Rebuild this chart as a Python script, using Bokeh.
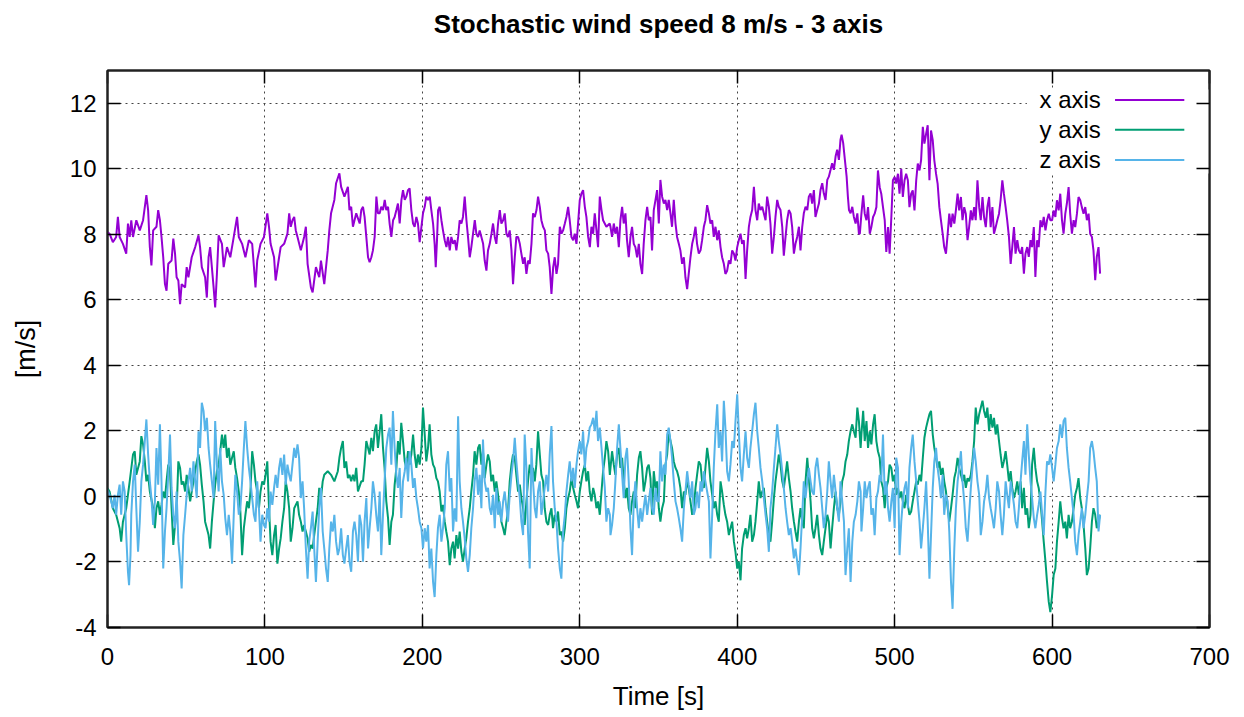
from bokeh.plotting import figure
from bokeh.models import LinearAxis, FixedTicker, Range1d
from bokeh.embed import file_html
from bokeh.resources import INLINE
from bokeh.core.properties import value

TITLE = "Stochastic wind speed 8 m/s - 3 axis"
X_LABEL = "Time [s]"
Y_LABEL = "[m/s]"
SERIES_NAMES = ["x axis", "y axis", "z axis"]
X_TICKS = [0, 100, 200, 300, 400, 500, 600, 700]
Y_TICKS = [-4, -2, 0, 2, 4, 6, 8, 10, 12]

# (time [s], speed [m/s]) samples of each wind component
X_AXIS = [
    (0.0, 8.07), (1.5, 8.00), (3.4, 7.76), (5.5, 7.92), (6.6, 8.53), (7.7, 7.92), (9.8, 7.71), (11.9, 7.41),
    (13.0, 8.33), (14.1, 7.92), (15.1, 8.43), (16.2, 7.92), (18.3, 8.43), (20.5, 8.12), (22.6, 8.43), (24.7, 9.20),
    (25.8, 8.74), (26.9, 7.61), (27.9, 7.05), (29.0, 8.12), (31.1, 8.23), (32.2, 8.74), (33.3, 8.43), (34.3, 7.92),
    (35.4, 7.30), (36.5, 6.48), (37.5, 6.28), (38.6, 7.10), (40.7, 7.20), (41.8, 7.87), (42.9, 7.41), (43.9, 6.69),
    (45.0, 6.59), (46.1, 5.87), (47.1, 6.48), (49.3, 6.38), (50.3, 7.00), (51.4, 6.69), (53.5, 7.30), (55.7, 7.61),
    (57.8, 7.97), (58.8, 7.61), (59.9, 7.00), (62.0, 6.69), (63.1, 6.07), (64.2, 7.30), (65.2, 7.61), (67.4, 6.38),
    (68.4, 5.77), (69.5, 6.79), (70.6, 7.97), (72.7, 7.71), (73.8, 7.00), (75.9, 7.61), (78.0, 7.30), (80.2, 7.92),
    (82.3, 8.53), (83.4, 7.92), (85.5, 7.71), (87.6, 7.30), (89.8, 7.82), (91.9, 7.71), (94.0, 6.38), (95.1, 7.20),
    (97.2, 7.71), (99.4, 7.92), (101.5, 8.64), (102.6, 8.23), (103.6, 7.71), (105.8, 7.30), (106.8, 6.59), (109.0, 7.30),
    (110.0, 7.61), (112.2, 7.71), (114.3, 8.02), (115.4, 8.64), (116.4, 8.23), (117.5, 8.43), (118.6, 8.53), (119.6, 8.12),
    (120.7, 7.92), (122.8, 7.51), (124.9, 7.92), (126.0, 8.23), (127.1, 7.10), (129.2, 6.38), (130.3, 6.23), (132.4, 7.00),
    (134.5, 6.69), (135.6, 7.20), (137.7, 6.48), (139.9, 7.51), (140.9, 8.12), (142.0, 8.64), (144.1, 9.05), (145.2, 9.56),
    (147.3, 9.86), (148.4, 9.45), (150.5, 9.15), (152.7, 9.45), (153.7, 8.74), (154.8, 8.84), (155.9, 8.23), (158.0, 8.64),
    (160.2, 8.33), (161.2, 8.74), (162.3, 8.84), (163.3, 8.53), (164.4, 7.92), (165.5, 7.30), (166.5, 7.15), (167.6, 7.30),
    (168.6, 7.51), (169.7, 7.92), (170.8, 9.15), (171.8, 8.64), (172.9, 8.64), (173.9, 8.84), (175.0, 8.74), (176.1, 9.05),
    (177.1, 8.74), (178.2, 8.84), (179.2, 8.33), (180.3, 7.92), (181.4, 8.43), (182.4, 8.53), (183.5, 8.74), (184.5, 8.94),
    (185.6, 8.33), (186.7, 9.05), (187.7, 9.35), (188.8, 9.05), (189.8, 9.15), (190.9, 9.35), (191.9, 9.40), (193.0, 8.74),
    (194.1, 8.33), (195.1, 8.23), (196.2, 8.53), (197.2, 8.33), (198.3, 7.76), (199.4, 8.23), (200.4, 8.64), (201.5, 8.84),
    (202.5, 9.15), (203.6, 9.05), (204.7, 9.15), (205.7, 8.74), (206.8, 8.33), (207.8, 7.71), (208.5, 7.00), (209.3, 7.82),
    (210.0, 8.74), (211.0, 8.84), (212.1, 8.43), (213.1, 8.12), (214.2, 7.82), (215.3, 7.61), (216.3, 7.92), (217.4, 7.51),
    (218.4, 7.92), (219.5, 7.71), (220.6, 7.82), (221.6, 7.51), (222.7, 7.92), (223.7, 8.43), (224.8, 8.33), (225.8, 8.53),
    (226.9, 9.15), (228.0, 8.43), (229.0, 7.92), (230.1, 7.30), (231.1, 7.61), (232.2, 8.02), (233.3, 8.43), (234.3, 8.02),
    (235.4, 7.92), (236.4, 8.12), (237.5, 7.92), (238.6, 7.71), (239.6, 7.20), (240.7, 6.89), (241.7, 7.51), (242.8, 7.71),
    (243.9, 8.02), (244.9, 8.33), (246.0, 7.92), (247.0, 7.71), (248.1, 8.33), (249.2, 8.74), (250.2, 8.33), (251.3, 8.43),
    (252.3, 8.64), (253.4, 8.02), (254.4, 7.92), (255.5, 8.12), (256.6, 7.51), (257.6, 6.48), (258.7, 7.30), (259.7, 7.92),
    (260.8, 7.92), (261.9, 7.71), (262.9, 7.41), (264.0, 7.10), (265.0, 7.30), (266.1, 6.79), (267.2, 7.20), (268.2, 7.10),
    (269.3, 7.71), (270.3, 8.64), (271.4, 8.53), (272.5, 8.74), (273.5, 9.15), (274.6, 8.84), (275.6, 8.43), (276.7, 8.23),
    (277.8, 8.12), (278.8, 7.51), (279.9, 7.41), (280.9, 7.00), (282.0, 6.18), (283.1, 7.00), (284.1, 7.30), (285.2, 6.79),
    (286.2, 7.10), (287.3, 8.23), (288.4, 8.02), (289.4, 8.12), (290.5, 8.33), (291.5, 8.53), (292.6, 8.84), (293.6, 8.43),
    (294.7, 7.92), (295.8, 7.82), (296.8, 8.02), (297.9, 7.71), (298.9, 8.33), (300.0, 9.05), (301.1, 9.25), (302.1, 9.35),
    (303.2, 8.84), (304.2, 8.53), (305.3, 7.92), (306.4, 7.61), (307.4, 8.23), (308.5, 8.02), (309.5, 8.64), (310.6, 8.12),
    (311.6, 7.61), (312.7, 9.15), (313.8, 8.74), (314.8, 8.43), (316.9, 8.23), (319.0, 8.33),
    (319.5, 8.23), (320.5, 7.92), (321.6, 8.33), (322.6, 8.02), (323.7, 8.23), (324.8, 7.61), (325.8, 8.43), (326.9, 8.84),
    (327.9, 8.33), (329.0, 8.64), (330.0, 7.82), (331.1, 7.30), (332.2, 7.92), (333.2, 8.23), (334.3, 7.71), (335.3, 7.61),
    (336.4, 7.30), (337.5, 7.71), (338.5, 7.10), (339.6, 6.79), (340.6, 7.71), (341.7, 8.43), (342.8, 8.84), (343.8, 8.43),
    (344.9, 8.53), (345.9, 7.51), (347.0, 8.74), (348.1, 9.05), (349.1, 9.35), (350.2, 8.33), (351.2, 9.66), (352.3, 9.15),
    (353.4, 8.94), (354.4, 9.05), (355.5, 8.74), (356.5, 9.05), (357.6, 8.64), (358.6, 8.23), (359.7, 9.05), (360.8, 8.33),
    (361.8, 7.92), (362.9, 7.71), (363.9, 7.51), (365.0, 7.10), (366.1, 7.30), (367.1, 6.69), (368.2, 6.33), (369.2, 6.79),
    (370.3, 7.30), (371.4, 7.71), (372.4, 7.92), (373.5, 8.23), (374.5, 7.71), (375.6, 7.41), (376.7, 7.51), (377.7, 7.82),
    (378.8, 8.23), (379.8, 8.43), (380.9, 8.89), (382.0, 8.64), (383.0, 8.33), (384.1, 8.43), (385.1, 7.92), (386.2, 8.23),
    (387.3, 7.82), (388.3, 8.12), (389.4, 7.61), (390.4, 7.30), (391.5, 7.10), (392.5, 6.79), (393.6, 6.89), (394.7, 7.20),
    (395.7, 7.10), (396.8, 7.51), (397.9, 7.41), (398.9, 7.20), (400.0, 7.61), (401.0, 7.82), (402.1, 8.02), (403.1, 7.71),
    (404.2, 7.82), (405.3, 6.64), (406.3, 7.51), (407.4, 8.23), (408.4, 8.53), (409.5, 8.74), (410.6, 9.45), (411.6, 8.74),
    (412.7, 8.43), (413.7, 8.94), (414.8, 8.74), (415.9, 8.84), (416.9, 8.64), (418.0, 8.43), (419.0, 9.15), (420.1, 8.84),
    (421.1, 8.33), (422.2, 7.41), (423.3, 7.92), (424.3, 8.53), (425.4, 9.05), (426.4, 8.84), (427.5, 8.74), (428.6, 8.23),
    (429.6, 7.35), (430.7, 7.92), (431.7, 8.43), (432.8, 8.74), (433.9, 8.64), (434.9, 8.23), (436.0, 7.41), (437.0, 7.71),
    (438.1, 7.92), (439.2, 8.23), (440.2, 7.51), (441.3, 8.23), (442.3, 8.64), (443.4, 8.84), (444.5, 8.74), (445.5, 9.15),
    (446.6, 9.25), (447.6, 8.94), (448.7, 9.35), (449.7, 8.53), (450.8, 8.74), (451.9, 8.94), (452.9, 9.35), (454.0, 9.56),
    (455.0, 9.25), (456.1, 9.05), (457.2, 9.66), (458.2, 9.76), (459.3, 9.97), (460.3, 10.17), (461.4, 9.97), (462.5, 10.38),
    (463.5, 10.58), (464.6, 10.27), (465.6, 10.89), (466.3, 11.04), (467.3, 10.79), (468.4, 10.27), (469.5, 9.76), (470.3, 9.15),
    (471.0, 8.74), (472.0, 8.64), (473.1, 8.84), (474.1, 8.53), (475.2, 8.33), (476.3, 8.64), (477.3, 8.02),
    (477.9, 8.02), (478.9, 8.63), (480.0, 9.19), (481.0, 8.63), (482.1, 8.43), (483.1, 8.83), (484.2, 8.02), (485.2, 8.22),
    (486.3, 8.53), (487.3, 8.63), (488.4, 8.83), (489.4, 9.95), (490.5, 9.44), (491.5, 9.24), (492.6, 8.83), (493.7, 8.43),
    (494.7, 7.46), (495.8, 8.22), (496.8, 7.41), (497.9, 8.53), (498.9, 9.65), (500.0, 9.75), (501.0, 9.55), (502.1, 9.85),
    (503.1, 9.24), (504.2, 10.00), (505.2, 9.14), (506.3, 9.65), (507.3, 9.85), (508.4, 9.65), (509.4, 8.83), (510.5, 9.24),
    (511.5, 9.34), (512.6, 8.73), (513.7, 9.65), (514.7, 10.16), (515.8, 9.95), (516.8, 10.26), (517.9, 11.28), (518.9, 10.77),
    (520.0, 11.07), (521.0, 11.33), (522.1, 9.65), (523.1, 11.17), (524.2, 10.87), (525.2, 10.26), (526.3, 9.85), (527.3, 9.55),
    (528.4, 8.83), (529.4, 8.43), (530.5, 8.02), (531.5, 7.61), (532.6, 7.41), (533.7, 8.02), (534.7, 8.63), (535.8, 8.22),
    (536.8, 8.63), (537.9, 8.33), (538.9, 8.73), (540.0, 9.24), (541.0, 8.73), (542.1, 9.14), (543.1, 8.43), (544.2, 8.83),
    (545.2, 8.63), (546.3, 7.82), (547.3, 8.22), (548.4, 8.73), (549.4, 8.43), (550.5, 8.83), (551.5, 8.43), (552.6, 9.65),
    (553.7, 8.83), (554.7, 8.43), (555.8, 9.14), (556.8, 8.53), (557.9, 8.22), (558.9, 8.83), (560.0, 9.14), (561.0, 8.22),
    (562.1, 8.83), (563.1, 8.02), (564.2, 8.22), (565.2, 8.43), (566.3, 8.63), (567.3, 9.04), (568.4, 9.65), (569.4, 9.24),
    (570.5, 8.83), (571.5, 8.43), (572.6, 7.92), (573.7, 7.10), (574.7, 7.61), (575.8, 8.22), (576.8, 7.41), (577.9, 7.82),
    (578.9, 7.51), (580.0, 7.41), (581.0, 7.61), (582.1, 6.80), (583.1, 7.41), (584.2, 7.61), (585.2, 7.31), (586.3, 7.82),
    (587.3, 7.61), (588.4, 8.22), (589.4, 6.70), (590.5, 7.82), (591.5, 7.61), (592.6, 8.43), (593.7, 8.22), (594.7, 8.53),
    (595.8, 8.12), (596.8, 8.43), (597.9, 8.63), (598.9, 8.43), (600.0, 8.43), (601.0, 8.73), (602.1, 8.53), (603.1, 9.04),
    (604.2, 8.73), (605.2, 9.24), (606.3, 8.43), (607.3, 8.02), (608.4, 8.63), (609.4, 8.94), (610.5, 9.44), (611.5, 8.63),
    (612.6, 8.02), (613.7, 8.43), (614.7, 8.22), (615.8, 8.63), (616.8, 9.14), (617.9, 9.04), (618.9, 8.83), (620.0, 8.63),
    (621.1, 8.83), (622.1, 8.43), (623.2, 8.63), (624.2, 8.02), (625.3, 7.92), (626.3, 7.51), (627.4, 6.60), (628.4, 7.31),
    (629.5, 7.61), (630.5, 6.80),
]

Y_AXIS = [
    (0.0, 0.25), (1.3, 0.15), (3.4, -0.36), (5.5, -0.56), (7.7, -0.97), (8.7, -1.38), (9.8, -0.77), (11.9, -0.36),
    (14.1, 0.46), (16.2, 1.28), (17.3, 1.38), (18.3, 0.66), (20.5, 1.07), (21.5, 1.84), (22.6, 1.59), (23.7, 1.07),
    (24.7, 0.46), (25.8, 0.66), (26.9, 0.15), (29.0, -0.36), (30.1, -0.97), (31.1, -0.36), (32.2, -0.15), (33.3, -0.56),
    (34.3, -0.26), (35.4, 0.15), (36.5, -0.05), (37.5, 0.46), (38.6, 0.97), (39.7, 0.77), (40.7, -0.36), (41.8, -1.48),
    (42.9, -0.87), (43.9, -0.46), (45.0, 1.07), (46.1, 0.87), (47.1, 0.36), (48.2, 0.46), (49.3, 0.15), (50.3, 0.66),
    (51.4, 0.26), (52.5, -0.15), (53.5, 0.15), (54.6, 0.46), (55.7, 0.77), (56.7, 1.07), (57.8, 1.28), (58.8, 0.97),
    (59.9, 0.36), (61.0, -0.15), (62.0, -0.77), (63.1, -0.97), (64.2, -1.18), (65.2, -1.59), (66.3, -0.77), (67.4, -0.15),
    (68.4, 0.36), (69.5, 0.77), (70.6, 0.97), (71.6, 1.38), (72.7, 1.89), (73.8, 1.48), (74.8, 1.89), (75.9, 1.18),
    (77.0, 1.48), (78.0, 0.97), (79.1, 1.18), (80.2, 1.38), (81.2, 0.87), (82.3, 0.56), (83.4, 0.15), (84.4, -0.46),
    (85.5, -1.79), (86.6, -0.97), (87.6, -0.56), (88.7, -0.15), (89.8, -0.36), (90.8, 0.15), (91.9, 1.38), (93.0, 0.97),
    (94.0, 0.46), (95.1, 0.15), (96.2, -0.36), (97.2, 0.15), (98.3, 0.46), (99.4, 0.36), (100.4, 0.66), (101.5, 1.07),
    (102.6, -0.36), (103.6, -1.38), (104.7, -1.79), (105.8, -1.18), (106.8, -0.87), (107.9, -2.05), (109.0, -1.59), (110.0, -1.28),
    (111.1, -0.77), (112.2, -0.36), (113.2, 0.46), (114.3, 0.15), (115.4, -0.36), (116.4, -1.38), (117.5, -0.97), (118.6, -0.36),
    (120.7, -0.15), (121.7, -0.56), (122.8, -0.77), (123.9, -1.07), (124.9, -0.87), (126.0, -1.07), (127.1, -1.28), (128.1, -1.69),
    (129.2, -1.48), (130.3, -1.59), (131.3, -1.18), (132.4, -0.77), (133.5, -0.36), (134.5, 0.26), (135.6, -0.05), (136.7, 0.46),
    (137.7, 0.66), (139.9, 0.77), (142.0, 0.66), (144.1, 0.46), (146.3, 0.77), (147.3, 1.18), (148.4, 1.48), (149.5, 1.69),
    (150.5, 0.87), (151.6, 1.07), (152.7, 0.56), (153.7, 0.66), (154.8, 0.46), (155.9, 0.66), (156.9, 0.46), (158.0, 0.87),
    (159.1, 0.15), (161.2, 0.46),
    (162.3, 0.46), (163.3, 0.97), (164.4, 1.69), (165.5, 1.48), (166.5, 1.28), (167.6, 1.79), (168.6, 1.38), (169.7, 1.99),
    (170.7, 2.20), (171.8, 1.48), (172.9, 1.99), (173.9, 2.51), (175.0, 1.48), (176.0, 0.87), (177.1, -0.15), (178.2, -0.66),
    (179.2, -1.48), (180.3, -0.77), (181.3, -0.56), (182.4, 0.36), (183.5, 0.87), (184.5, 1.69), (185.6, 1.28), (186.6, 2.25),
    (187.7, 1.69), (188.8, 1.07), (189.8, 0.87), (190.9, 1.38), (191.9, 0.97), (193.0, 1.28), (194.1, 1.89), (195.1, 1.28),
    (196.2, 0.87), (197.2, 1.28), (198.3, 0.97), (199.4, 1.48), (200.4, 2.71), (201.5, 1.89), (202.5, 1.07), (203.6, 1.48),
    (204.6, 2.20), (205.7, 1.28), (206.8, 0.97), (207.8, 0.87), (208.9, 0.56), (209.9, 0.46), (211.0, 0.15), (212.1, -0.46),
    (213.1, -0.26), (214.2, -0.77), (215.2, -1.07), (216.3, -1.38), (217.4, -2.10), (218.4, -1.59), (219.5, -1.38), (220.5, -1.89),
    (221.6, -1.18), (222.7, -1.59), (223.7, -1.07), (224.8, -1.69), (225.8, -1.99), (226.9, -1.59), (227.9, -1.28), (229.0, -0.77),
    (230.1, -0.36), (231.1, 0.15), (232.2, 0.66), (233.2, 1.38), (234.3, 0.97), (235.4, 1.48), (236.4, 1.59), (237.5, 0.97),
    (238.5, 1.38), (239.6, 0.56), (240.7, 0.97), (241.7, 1.28), (242.8, 1.07), (243.8, 0.46), (244.9, 0.66), (246.0, 0.15),
    (247.0, 0.46), (248.1, 0.05), (249.1, -0.36), (250.2, -0.77), (251.3, -0.97), (252.3, -1.18), (253.4, -0.77), (254.4, -0.46),
    (255.5, 0.46), (256.6, 0.97), (257.6, 1.28), (258.7, 1.18), (259.7, 0.66), (260.8, 0.15), (261.9, 0.36), (262.9, -0.05),
    (264.0, -0.36), (265.0, -0.87), (266.1, -0.15), (267.1, 0.46), (268.2, 0.97), (269.3, 0.66), (270.3, 0.87), (271.4, 0.46),
    (272.4, 0.97), (273.5, 1.99), (274.6, 1.28), (275.6, 0.66), (276.7, 0.46), (277.7, -0.36), (278.8, -0.77), (279.9, -0.87),
    (280.9, -0.56), (282.0, -0.36), (283.0, -0.97), (284.1, -0.56), (285.2, -0.77), (286.2, -0.46), (287.3, -1.18), (288.3, -1.07),
    (289.4, -1.38), (290.5, -0.97), (291.5, -0.36), (292.6, -0.05), (293.6, 0.15), (294.7, 0.56), (295.8, 0.26), (296.8, 0.05),
    (297.9, -0.15), (298.9, -0.36), (300.0, 0.15), (301.0, 0.46), (302.1, 0.77), (303.2, 0.97), (304.2, 0.46), (305.3, 0.77),
    (306.3, 0.15), (307.4, -0.15), (308.5, 0.26), (309.5, 0.05), (310.6, -0.36), (311.6, -0.15), (312.7, -0.56), (313.8, 0.15),
    (314.8, 0.77), (315.9, 1.18), (316.9, 1.69), (318.0, 1.38), (319.1, 0.66),
    (319.5, 0.87), (320.5, 1.38), (321.6, 0.97), (322.6, 0.66), (323.7, 1.28), (324.8, 1.48), (325.8, 0.87), (326.9, 1.18),
    (327.9, 0.46), (329.0, -0.05), (330.0, 0.26), (331.1, -0.36), (332.2, -0.56), (333.2, -0.15), (334.3, 0.15), (335.3, -0.36),
    (336.4, 0.66), (337.5, 1.18), (338.5, 1.38), (339.6, 0.87), (340.6, 0.15), (341.7, 0.46), (342.8, 0.87), (343.8, 0.97),
    (344.9, 0.56), (345.9, -0.56), (347.0, 0.77), (348.1, 0.26), (349.1, 0.46), (350.2, -0.36), (351.2, -0.77), (352.3, -0.36),
    (353.4, -0.15), (354.4, 0.97), (355.5, 1.28), (356.5, 1.99), (357.6, 1.69), (358.6, 1.48), (359.7, 1.07), (360.8, 0.87),
    (361.8, 0.77), (362.9, 0.56), (363.9, 0.26), (365.0, -0.36), (366.1, 0.15), (367.1, 0.05), (368.2, 0.46), (369.2, 0.26),
    (370.3, -0.15), (371.4, -0.56), (372.4, -0.36), (373.5, 0.26), (374.5, 0.66), (375.6, 1.07), (376.7, 0.97), (377.7, 0.46),
    (378.8, 0.26), (379.8, 0.87), (380.9, 1.48), (382.0, 1.07), (383.0, 0.46), (384.1, 0.05), (385.1, -0.36), (386.2, -0.15),
    (387.3, -0.56), (388.3, -0.77), (389.4, 0.46), (390.4, 0.15), (391.5, -0.26), (392.5, -0.56), (393.6, -0.77), (394.7, -1.18),
    (395.7, -0.97), (396.8, -0.77), (397.9, -1.38), (398.9, -1.69), (400.0, -2.20), (401.0, -1.99), (402.1, -2.56), (403.1, -1.59),
    (404.2, -1.18), (405.3, -0.97), (406.3, -1.28), (407.4, -0.97), (408.4, -0.56), (409.5, -1.38), (410.6, -1.18), (411.6, -0.77),
    (412.7, -0.15), (413.7, 0.46), (414.8, -0.05), (415.9, 0.15), (416.9, 0.26), (418.0, -0.36), (419.0, -0.77), (420.1, -1.18),
    (421.1, -1.38), (422.2, -0.77), (423.3, -0.05), (424.3, 0.46), (425.4, 0.87), (426.4, 1.28), (427.5, 0.97), (428.6, 0.46),
    (429.6, 0.26), (430.7, 0.66), (431.7, 1.07), (432.8, 0.56), (433.9, 0.15), (434.9, -0.36), (436.0, -0.77), (437.0, -1.07),
    (438.1, -1.38), (439.2, -0.77), (440.2, -0.36), (441.3, -0.77), (442.3, -0.97), (443.4, 0.46), (444.5, 1.18), (445.5, 0.56),
    (446.6, -0.15), (447.6, -0.97), (448.7, -1.28), (449.7, -0.97), (450.8, -0.56), (451.9, -1.18), (452.9, -1.59), (454.0, -1.79),
    (455.0, -1.38), (456.1, -0.97), (457.2, -0.56), (458.2, -0.77), (459.3, -1.59), (460.3, -0.97), (461.4, -0.36), (462.5, 0.15),
    (463.5, -0.36), (464.6, -0.56), (465.6, -0.15), (466.7, 0.46), (467.8, 0.66), (468.8, 1.07), (469.9, 1.28), (470.9, 1.69),
    (472.0, 1.99), (473.1, 2.20), (474.1, 1.99), (475.2, 1.79), (476.3, 2.71), (477.3, 2.30), (478.4, 1.48),
    (478.9, 1.89), (480.0, 2.61), (481.0, 1.69), (482.1, 2.30), (483.1, 1.48), (484.2, 1.99), (485.2, 1.59), (486.3, 2.20),
    (487.3, 2.51), (488.4, 1.69), (489.4, 1.38), (490.5, 1.18), (491.5, 0.46), (492.6, 0.26), (493.7, -0.36), (494.7, 0.26),
    (495.8, 0.46), (496.8, 0.97), (497.9, 0.87), (498.9, 0.46), (500.0, 0.66), (501.0, 0.05), (502.1, 0.26), (503.1, -0.05),
    (504.2, 0.15), (505.2, -0.15), (506.3, -0.36), (507.3, 0.05), (508.4, -0.26), (509.4, -0.56), (510.5, -0.46), (511.5, -0.15),
    (512.6, 0.15), (513.7, 0.46), (514.7, 0.36), (515.8, 0.66), (516.8, 0.46), (517.9, 1.18), (518.9, 1.79), (520.0, 2.10),
    (521.0, 2.30), (522.1, 2.51), (523.1, 2.61), (524.2, 1.89), (525.2, 1.48), (526.3, 1.18), (527.3, 0.87), (528.4, 1.07),
    (529.4, 0.66), (530.5, 0.87), (531.5, 0.46), (532.6, 0.15), (533.7, -0.36), (534.7, -0.77), (535.8, -0.36), (536.8, 0.05),
    (537.9, 0.56), (538.9, 0.77), (540.0, 1.18), (541.0, 0.87), (542.1, 0.66), (543.1, 0.46), (544.2, 0.66), (545.2, 0.26),
    (546.3, 0.56), (547.3, 0.46), (548.4, 0.66), (549.4, 1.07), (550.5, 1.69), (551.5, 2.71), (552.6, 2.20), (553.7, 2.51),
    (554.7, 2.71), (555.8, 2.92), (556.8, 2.61), (557.9, 2.40), (558.9, 2.71), (560.0, 1.99), (561.0, 2.51), (562.1, 2.10),
    (563.1, 2.40), (564.2, 1.89), (565.2, 2.20), (566.3, 1.69), (567.3, 1.28), (568.4, 0.87), (569.4, 1.07), (570.5, 1.38),
    (571.5, 0.97), (572.6, 0.46), (573.7, 0.77), (574.7, 0.26), (575.8, -0.05), (576.8, 0.15), (577.9, 0.46), (578.9, 0.05),
    (580.0, 0.46), (581.0, -0.36), (582.1, 0.26), (583.1, -0.56), (584.2, -0.36), (585.2, -0.97), (586.3, -0.56), (587.3, 0.97),
    (588.4, 1.48), (589.4, 0.87), (590.5, 0.46), (591.5, 0.26), (592.6, -0.15), (593.7, -0.77), (594.7, -1.38), (595.8, -1.99),
    (596.8, -2.61), (597.9, -3.22), (598.9, -3.53), (600.0, -3.02), (601.0, -2.40), (602.1, -2.20), (603.1, -1.38), (604.2, -0.77),
    (605.2, -0.15), (606.3, -0.66), (607.3, -0.97), (608.4, -0.77), (609.4, -1.28), (610.5, -0.56), (611.5, -0.97), (612.6, -0.77),
    (613.7, -0.36), (614.7, 0.05), (615.8, 0.26), (616.8, 0.56), (617.9, -0.05), (618.9, -0.36), (620.0, -0.87), (621.1, -1.59),
    (622.1, -2.40), (623.2, -2.20), (624.2, -1.59), (625.3, -0.77), (626.3, -0.36), (627.4, -0.56), (628.4, -0.97), (629.5, -0.77),
    (630.5, -0.56),
]

Z_AXIS = [
    (0.0, 0.20), (1.3, 0.05), (2.3, -0.15), (3.4, -0.36), (4.5, 0.05), (5.5, -0.56), (6.6, 0.05), (7.7, 0.36),
    (8.7, -0.56), (9.8, 0.46), (10.9, 0.15), (11.9, -1.18), (13.0, -2.30), (13.7, -2.71), (14.6, -1.79), (15.1, -0.56),
    (16.2, 0.46), (17.3, 0.97), (18.3, -0.36), (19.4, -1.69), (20.5, -0.77), (21.5, 0.46), (22.6, 0.97), (23.7, 1.69),
    (24.7, 2.35), (25.8, 1.28), (26.9, 0.46), (27.9, -0.05), (29.0, -0.87), (30.1, -0.15), (31.1, 1.48), (32.2, 0.36),
    (33.3, 2.20), (34.3, 0.46), (35.4, -2.20), (36.5, -1.07), (37.5, -0.36), (38.6, 0.66), (39.7, 1.89), (40.7, 0.26),
    (41.8, -0.56), (42.9, -0.97), (43.9, 0.15), (45.0, -1.38), (46.1, -1.99), (47.1, -2.81), (48.2, -1.18), (49.3, -0.56),
    (50.3, 0.05), (51.4, 0.46), (52.5, 0.87), (53.5, 0.15), (54.6, 1.07), (55.7, 0.46), (56.7, -0.05), (57.8, 1.99),
    (58.8, 1.48), (59.9, 2.86), (61.0, 2.61), (62.0, 1.99), (63.1, 2.40), (64.2, 1.48), (65.2, 0.97), (66.3, 0.46),
    (67.4, -0.05), (68.4, 2.30), (69.5, 0.97), (70.6, 0.15), (71.6, 1.48), (72.7, 0.46), (73.8, 0.05), (74.8, -0.66),
    (75.9, -1.18), (77.0, -0.56), (78.0, -1.07), (79.1, -2.05), (80.2, -0.56), (81.2, 0.66), (82.3, 0.15), (83.4, -0.56),
    (84.4, -0.36), (85.5, 0.46), (86.6, 1.48), (87.6, 2.30), (88.7, 1.48), (89.8, 0.87), (90.8, 0.46), (91.9, -0.05),
    (93.0, -0.56), (94.0, -0.77), (95.1, 0.46), (96.2, -0.36), (97.2, -1.38), (98.3, -0.56), (99.4, -0.87), (100.4, -0.97),
    (101.5, -0.36), (102.6, -0.77), (103.6, 0.15), (104.7, -0.26), (105.8, 0.26), (106.8, 0.66), (107.9, 0.26), (109.0, 0.87),
    (110.0, 1.18), (111.1, 0.66), (112.2, 1.28), (113.2, 0.36), (114.3, 0.97), (115.4, 0.66), (116.4, 0.46), (117.5, 0.97),
    (118.6, 1.48), (119.6, 1.18), (120.7, 1.59), (121.7, 1.18), (122.8, -0.05), (123.9, 0.46), (124.9, -0.36), (126.0, -1.59),
    (127.1, -2.51), (128.1, -1.38), (129.2, -0.97), (130.3, -0.46), (131.3, -1.59), (132.4, -2.61), (133.5, -1.38), (134.5, -0.36),
    (135.6, 0.26), (136.7, -1.07), (137.7, -1.59), (138.8, -2.20), (139.9, -2.61), (140.9, -1.59), (142.0, -0.77), (143.1, -1.07),
    (144.1, -0.56), (145.2, -1.38), (146.3, -1.79), (147.3, -1.59), (148.4, -0.97), (149.5, -1.79), (150.5, -2.05), (151.6, -1.59),
    (152.7, -1.18), (153.7, -1.99), (154.8, -2.30), (155.9, -1.07), (156.9, -0.77), (158.0, -1.18), (159.1, -1.99), (160.1, -0.56),
    (161.2, -0.87),
    (162.3, -1.99), (163.3, -0.77), (164.4, -0.05), (165.5, -1.59), (166.5, -0.97), (167.6, -0.36), (168.6, 0.46), (169.7, 0.05),
    (170.7, -0.56), (171.8, -1.07), (172.9, 0.15), (173.9, -1.79), (175.0, -0.56), (176.0, 0.46), (177.1, 1.48), (178.2, 1.89),
    (179.2, 2.10), (180.3, 0.97), (181.3, 2.61), (182.4, 1.48), (183.5, 0.66), (184.5, 0.26), (185.6, 0.87), (186.6, -0.66),
    (187.7, 0.46), (188.8, 0.77), (189.8, 1.18), (190.9, 0.46), (191.9, 1.38), (193.0, 0.97), (194.1, 0.26), (195.1, 0.56),
    (196.2, -0.05), (197.2, -0.36), (198.3, -0.77), (199.4, -0.97), (200.4, -1.59), (201.5, -0.97), (202.5, -1.38), (203.6, -0.87),
    (204.6, -2.20), (205.7, -1.59), (206.8, -2.61), (207.8, -3.07), (208.9, -1.79), (209.9, -0.97), (211.0, -0.56), (212.1, -1.38),
    (213.1, -0.97), (214.2, -0.36), (215.2, 0.97), (216.3, 1.38), (217.4, 0.15), (218.4, 0.56), (219.5, -1.07), (220.5, -0.36),
    (221.6, -0.77), (222.7, 2.45), (223.7, 0.46), (224.8, -0.36), (225.8, -0.77), (226.9, -1.28), (227.9, -1.89), (229.0, -2.30),
    (230.1, -1.79), (231.1, -0.97), (232.2, -0.36), (233.2, 0.46), (234.3, 0.87), (235.4, 0.05), (236.4, 0.66), (237.5, -0.36),
    (238.5, 1.74), (239.6, 0.46), (240.7, 0.15), (241.7, 0.26), (242.8, -0.36), (243.8, -0.56), (244.9, 0.05), (246.0, -0.97),
    (247.0, 0.26), (248.1, -0.56), (249.1, -0.15), (250.2, -0.77), (251.3, -0.15), (252.3, 0.15), (253.4, -0.36), (254.4, -0.77),
    (255.5, 0.05), (256.6, 0.66), (257.6, 1.07), (258.7, 1.79), (259.7, 1.07), (260.8, 0.46), (261.9, -0.05), (262.9, -0.77),
    (264.0, -1.18), (265.0, 1.89), (266.1, 0.87), (267.1, -1.07), (268.2, -2.20), (269.3, 1.48), (270.3, 0.46), (271.4, -0.36),
    (272.4, -0.66), (273.5, 0.15), (274.6, 0.46), (275.6, -0.56), (276.7, -0.15), (277.7, 0.26), (278.8, 0.66), (279.9, 0.15),
    (280.9, 1.28), (282.0, 2.15), (283.0, 0.46), (284.1, -0.36), (285.2, -0.77), (286.2, -1.59), (287.3, -2.20), (288.3, -2.51),
    (289.4, -1.07), (290.5, -0.56), (291.5, 0.15), (292.6, 0.66), (293.6, 1.07), (294.7, 0.46), (295.8, 0.87), (296.8, 0.26),
    (297.9, 0.97), (298.9, 1.38), (300.0, 1.69), (301.0, 1.28), (302.1, 1.99), (303.2, 0.87), (304.2, 1.48), (305.3, 1.69),
    (306.3, 2.10), (307.4, 2.20), (308.5, 2.40), (309.5, 1.99), (310.6, 2.61), (311.6, 1.69), (312.7, 2.10), (313.8, 1.48),
    (314.8, 0.87), (315.9, 0.26), (316.9, -0.77), (318.0, -0.36), (319.1, -0.56),
    (319.5, -1.18), (320.5, -0.87), (321.6, -0.36), (322.6, 0.46), (323.7, 1.48), (324.8, 2.20), (325.8, 1.48), (326.9, 0.66),
    (327.9, -0.05), (329.0, 1.18), (330.0, 1.48), (331.1, 0.46), (332.2, -0.97), (333.2, -1.79), (334.3, -0.15), (335.3, 0.46),
    (336.4, -0.36), (337.5, -0.97), (338.5, -0.36), (339.6, -0.77), (340.6, -0.36), (341.7, 0.05), (342.8, -0.56), (343.8, -0.15),
    (344.9, 0.26), (345.9, -0.36), (347.0, -0.56), (348.1, 0.26), (349.1, -0.15), (350.2, -0.15), (351.2, 1.38), (352.3, 0.46),
    (353.4, 0.97), (354.4, 0.66), (355.5, 1.89), (356.5, 2.10), (357.6, 1.69), (358.6, 1.18), (359.7, 0.46), (360.8, -0.15),
    (361.8, -0.36), (362.9, -0.66), (363.9, -0.97), (365.0, -1.38), (366.1, -0.36), (367.1, 0.15), (368.2, 0.77), (369.2, 0.36),
    (370.3, -0.05), (371.4, 0.46), (372.4, -0.56), (373.5, -0.36), (374.5, 0.15), (375.6, -0.36), (376.7, 0.46), (377.7, 0.15),
    (378.8, 0.77), (379.8, 0.46), (380.9, 0.15), (382.0, -0.15), (383.0, -1.89), (384.1, -0.56), (385.1, 0.87), (386.2, 1.99),
    (387.3, 2.81), (388.3, 1.48), (389.4, 1.99), (390.4, 1.07), (391.5, 2.92), (392.5, 2.10), (393.6, 0.77), (394.7, 0.46),
    (395.7, 0.97), (396.8, 1.69), (397.9, 1.48), (398.9, 2.30), (400.0, 3.12), (401.0, 1.99), (402.1, 0.87), (403.1, 0.46),
    (404.2, 1.28), (405.3, 1.99), (406.3, 1.18), (407.4, 0.87), (408.4, 1.48), (409.5, 1.99), (410.6, 2.51), (411.6, 2.86),
    (412.7, 1.99), (413.7, 1.48), (414.8, 0.87), (415.9, 0.46), (416.9, -0.05), (418.0, -0.56), (419.0, -0.97), (420.1, -1.69),
    (421.1, -0.36), (422.2, 0.15), (423.3, 0.87), (424.3, 1.48), (425.4, 2.20), (426.4, 1.69), (427.5, 1.28), (428.6, 0.77),
    (429.6, 0.26), (430.7, -0.36), (431.7, -0.77), (432.8, -1.18), (433.9, -0.97), (434.9, -1.38), (436.0, -1.89), (437.0, -1.59),
    (438.1, -1.99), (439.2, -2.40), (440.2, -1.59), (441.3, -0.56), (442.3, 0.46), (443.4, -0.05), (444.5, 0.46), (445.5, 0.87),
    (446.6, 0.46), (447.6, 0.15), (448.7, 0.05), (449.7, 0.87), (450.8, 1.18), (451.9, 0.66), (452.9, 0.26), (454.0, -0.36),
    (455.0, -0.97), (456.1, -0.56), (457.2, 0.15), (458.2, 1.07), (459.3, 0.46), (460.3, -0.05), (461.4, 0.66), (462.5, 0.15),
    (463.5, -0.36), (464.6, -0.77), (465.6, 0.46), (466.7, -0.15), (467.8, -0.77), (468.8, -2.40), (469.9, -1.59), (470.9, -0.97),
    (472.0, -2.61), (473.1, -1.38), (474.1, -0.77), (475.2, -0.56), (476.3, -0.15), (477.3, 0.46), (478.4, 0.15),
    (478.9, -1.07), (480.0, -0.36), (481.0, 0.46), (482.1, -0.05), (483.1, 0.26), (484.2, 0.46), (485.2, -0.56), (486.3, -0.36),
    (487.3, -1.18), (488.4, -0.05), (489.4, 0.15), (490.5, 0.66), (491.5, 0.46), (492.6, 1.89), (493.7, 0.05), (494.7, 0.46),
    (495.8, -0.36), (496.8, -0.77), (497.9, -0.15), (498.9, 0.26), (500.0, -0.97), (501.0, 1.18), (502.1, 0.87), (503.1, -1.79),
    (504.2, -0.77), (505.2, -0.15), (506.3, 0.26), (507.3, 0.46), (508.4, -0.36), (509.4, 0.87), (510.5, 1.48), (511.5, 1.89),
    (512.6, 1.07), (513.7, 0.46), (514.7, -0.15), (515.8, -0.77), (516.8, -1.59), (517.9, -0.97), (518.9, -0.36), (520.0, 0.46),
    (521.0, -0.77), (522.1, -2.51), (523.1, -1.18), (524.2, 0.26), (525.2, 1.07), (526.3, 1.48), (527.3, 0.87), (528.4, 0.46),
    (529.4, -0.05), (530.5, 0.66), (531.5, -0.56), (532.6, 0.05), (533.7, -0.15), (534.7, -1.07), (535.8, -2.61), (536.8, -3.43),
    (537.9, -1.59), (538.9, -0.36), (540.0, 0.46), (541.0, 0.87), (542.1, 1.38), (543.1, 0.46), (544.2, -0.15), (545.2, -0.97),
    (546.3, -1.38), (547.3, -0.56), (548.4, 0.26), (549.4, 0.87), (550.5, 1.48), (551.5, 1.07), (552.6, 0.46), (553.7, 0.05),
    (554.7, -1.18), (555.8, -0.77), (556.8, -0.15), (557.9, 0.15), (558.9, 0.66), (560.0, -0.05), (561.0, -0.36), (562.1, -0.66),
    (563.1, -0.97), (564.2, -0.36), (565.2, 0.46), (566.3, 0.15), (567.3, -0.56), (568.4, -1.18), (569.4, -0.56), (570.5, 0.46),
    (571.5, 0.05), (572.6, -0.36), (573.7, 0.46), (574.7, 0.15), (575.8, -0.26), (576.8, -0.77), (577.9, -0.97), (578.9, -0.36),
    (580.0, 0.46), (581.0, 1.07), (582.1, 1.69), (583.1, 0.66), (584.2, 2.20), (585.2, 1.28), (586.3, 0.46), (587.3, -0.05),
    (588.4, -0.66), (589.4, -0.97), (590.5, -0.56), (591.5, -0.26), (592.6, 0.15), (593.7, -0.56), (594.7, -1.18), (595.8, 0.15),
    (596.8, 1.07), (597.9, 0.97), (598.9, 1.28), (600.0, 0.87), (601.0, 0.46), (602.1, 0.97), (603.1, 1.48), (604.2, 1.69),
    (605.2, 2.20), (606.3, 1.79), (607.3, 2.30), (608.4, 2.40), (609.4, 1.48), (610.5, 0.87), (611.5, 0.46), (612.6, -0.05),
    (613.7, -0.56), (614.7, -1.38), (615.8, -1.79), (616.8, -1.18), (617.9, -0.77), (618.9, -0.36), (620.0, -0.97), (621.1, -0.56),
    (622.1, -0.05), (623.2, 0.46), (624.2, 1.48), (625.3, 1.69), (626.3, 1.38), (627.4, 0.87), (628.4, 0.46), (629.5, -1.07),
    (630.5, -0.56),
]

SERIES = [X_AXIS, Y_AXIS, Z_AXIS]
COLORS = ["#9400d3", "#009e73", "#56b4e9"]
FONT = "Liberation Sans"

p = figure(width=1244, height=717, output_backend="svg", toolbar_location=None,
           title_location=None,
           x_range=Range1d(0, 700), y_range=Range1d(-4, 13),
           min_border_left=107, min_border_right=35, min_border_top=70, min_border_bottom=90,
           background_fill_color="white", border_fill_color="white")

p.outline_line_color = "#222222"
p.outline_line_width = 2

bottom_axis = p.below[0]
left_axis = p.left[0]

# mirror axes on top and right; the top one carries the title
top_axis = LinearAxis()
right_axis = LinearAxis()
p.add_layout(top_axis, "above")
p.add_layout(right_axis, "right")

for ax in [bottom_axis, top_axis]:
    ax.ticker = FixedTicker(ticks=X_TICKS)
    ax.major_label_overrides = {t: str(t) for t in X_TICKS}
for ax in [left_axis, right_axis]:
    ax.ticker = FixedTicker(ticks=Y_TICKS)
    ax.major_label_overrides = {t: str(t) for t in Y_TICKS}
p.xgrid.ticker = FixedTicker(ticks=X_TICKS)
p.ygrid.ticker = FixedTicker(ticks=Y_TICKS)

for ax in [bottom_axis, left_axis, top_axis, right_axis]:
    ax.major_tick_in = 13
    ax.major_tick_out = 0
    ax.minor_tick_in = 0
    ax.minor_tick_out = 0
    ax.major_tick_line_color = "black"
    ax.major_tick_line_width = 1.5
    ax.axis_line_color = "#222222"
    ax.axis_line_width = 2
    ax.major_label_text_font = FONT
    ax.major_label_text_font_size = "24px"
    ax.major_label_text_color = "black"
    ax.axis_label_text_font = FONT
    ax.axis_label_text_font_style = "normal"
    ax.axis_label_text_color = "black"

# the mirror axes keep their ticks but show no numbers
for ax in [top_axis, right_axis]:
    ax.major_label_text_color = None
    ax.major_label_text_font_size = "10px"
    ax.major_label_standoff = 0

top_axis.axis_label = TITLE
top_axis.axis_label_text_font_style = "bold"
top_axis.axis_label_text_font_size = "26px"
top_axis.axis_label_standoff = 32

bottom_axis.axis_label = X_LABEL
bottom_axis.axis_label_text_font_size = "26px"
bottom_axis.major_label_standoff = 20
bottom_axis.axis_label_standoff = 13

left_axis.axis_label = Y_LABEL
left_axis.axis_label_text_font_size = "27px"
left_axis.major_label_standoff = 11
left_axis.axis_label_standoff = 26

for g in [p.xgrid[0], p.ygrid[0]]:
    g.grid_line_color = "#444444"
    g.grid_line_dash = "2 4"
    g.grid_line_width = 1

for data, color in zip(SERIES, COLORS):
    t = [d[0] for d in data]
    v = [d[1] for d in data]
    p.line(t, v, line_color=color, line_width=2)

# key in the upper right corner: label, then a short line sample
KEY_BOX = dict(left=584, right=700, bottom=9.86, top=12.42)
KEY_TEXT_X = 631
KEY_LINE_X = (640, 684)
KEY_ROWS = [12.10, 11.19, 10.27]

p.quad(left=[KEY_BOX["left"]], right=[KEY_BOX["right"]], bottom=[KEY_BOX["bottom"]], top=[KEY_BOX["top"]],
       fill_color="white", line_color=None)
p.text(x=[KEY_TEXT_X] * 3, y=KEY_ROWS, text=SERIES_NAMES, text_align="right", text_baseline="middle",
       text_font=value(FONT), text_font_size="24px", text_color="black")
p.segment(x0=[KEY_LINE_X[0]] * 3, x1=[KEY_LINE_X[1]] * 3, y0=KEY_ROWS, y1=KEY_ROWS,
          line_color=COLORS, line_width=2)

open("out.html", "w").write(file_html(p, INLINE))
